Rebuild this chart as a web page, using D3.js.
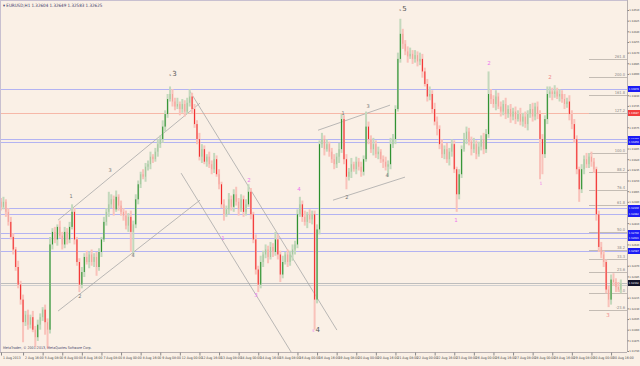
<!DOCTYPE html>
<html>
<head>
<meta charset="utf-8">
<script src="https://cdnjs.cloudflare.com/ajax/libs/d3/7.8.5/d3.min.js"></script>
<style>
body{margin:0;background:#faf0e6;}
svg{display:block;font-family:"DejaVu Sans",sans-serif;}
.small{font-family:"DejaVu Sans Condensed","DejaVu Sans",sans-serif;}
</style>
</head>
<body>
<svg id="chart" width="640" height="366"></svg>
<script>
//chart data (prices in pips above 1.3000, one bar = 2 hours)
var symbolTitle = "EURUSD,H1  1.32604 1.32649 1.32583 1.32625";
var copyright = "MetaTrader, \u00a9 2001-2013, MetaQuotes Software Corp.";
var firstOpen = 298;
var closes = [
 294,298,290,282,270,260,246,232,220,202, 208,200,206,196,190,200,206,212,202,196,
 264,274,268,278,271,264,274,268,278,290, 268,250,232,242,254,250,256,250,254,246,
 258,268,282,290,296,300,292,302,295,290, 287,279,286,274,280,300,312,320,318,326,
 328,334,332,338,344,348,358,368,380,384, 378,374,376,372,376,370,377,382,372,360,
 348,334,340,330,334,328,324,332,320,312, 296,288,292,300,294,304,298,292,300,290,
 296,306,288,268,244,232,250,256,260,254, 262,258,268,256,240,250,256,250,256,260,
 264,288,296,286,282,288,284,288,220,276, 344,348,340,344,338,332,328,334,340,364,
 332,318,322,328,324,330,326,322,332,358, 348,340,344,336,338,332,330,326,328,344,
 348,372,412,432,424,418,414,416,412,415, 410,412,402,392,382,384,372,362,356,344,
 336,340,332,338,344,324,304,320,340,348, 354,346,340,344,336,342,348,340,352,384,
 380,376,382,374,370,376,368,372,366,370, 364,368,362,366,360,368,372,366,374,368,
 348,336,364,384,386,384,386,382,384,380, 376,378,368,360,348,324,308,324,332,328,
 334,330,324,288,262,256,250,228,220,236, 234,230,228,233
];
var wickUp = [
 3,4,2,3,4,3,2,5,3,4, 3,4,2,5,3,4,3,2,4,3,
 6,3,4,2,5,3,4,3,4,6, 3,2,3,4,3,5,2,4,3,4,
 3,2,4,3,10,4,3,5,2,4, 3,4,3,5,3,4,3,2,4,3,
 3,4,2,3,4,3,5,3,4,6, 4,3,5,2,4,3,4,6,3,4,
 3,5,4,3,2,4,3,5,3,4, 2,4,3,5,3,4,6,3,4,3,
 4,6,3,2,4,3,5,3,4,3, 4,3,6,4,3,5,2,4,3,4,
 3,4,6,3,5,2,4,3,3,4, 3,5,3,4,2,3,4,3,5,4,
 3,4,3,5,2,4,3,4,3,12, 4,3,5,3,4,2,3,4,3,5,
 4,3,5,12,4,3,4,5,3,4, 3,5,4,3,4,6,3,5,4,3,
 4,3,5,3,4,3,2,4,3,5, 4,3,4,5,3,4,3,5,4,18,
 4,3,5,3,4,3,5,3,4,3, 4,3,5,3,4,3,4,5,3,4,
 3,4,3,6,4,3,5,3,4,3, 4,3,5,3,4,3,2,4,3,5,
 3,4,3,2,3,4,3,2,3,4, 5,3,4,3
];
var wickDown = [
 3,2,4,3,2,4,3,3,4,16, 3,4,3,2,8,3,4,3,10,15,
 3,4,3,5,2,4,3,4,3,2, 4,3,6,3,4,2,5,3,4,7,
 3,4,2,3,4,3,5,2,4,3, 4,3,5,16,18,3,4,3,2,4,
 3,4,3,2,4,3,3,4,3,2, 4,3,2,5,3,4,2,3,4,3,
 4,3,5,2,4,3,4,3,2,4, 3,5,2,4,3,4,3,5,2,4,
 3,2,4,3,4,6,3,4,3,5, 2,4,3,4,6,3,2,4,3,5,
 4,3,2,4,3,5,3,4,24,3, 4,3,5,2,4,3,4,3,5,3,
 4,10,3,5,2,4,3,4,3,2, 4,3,5,3,4,3,5,3,8,4,
 3,4,2,3,4,3,5,2,4,3, 4,3,5,2,4,3,4,3,5,4,
 3,4,3,5,4,3,14,4,3,2, 4,3,5,3,4,2,3,4,3,3,
 4,3,5,2,4,3,4,3,5,3, 4,2,3,4,3,5,3,4,3,4,
 32,16,3,4,3,5,3,2,4,3, 4,3,5,4,3,4,10,3,4,3,
 3,4,3,5,4,3,4,3,6,4, 3,4,2,3
];
var priceTicks = [1.31790,1.31875,1.31960,1.32045,1.32130,1.32215,1.32300,1.32385,1.32470,1.32555,
 1.32640,1.32725,1.32810,1.32895,1.32980,1.33065,1.33150,1.33235,1.33320,1.33405,1.33490,
 1.33575,1.33660,1.33745,1.33830,1.33915,1.34000,1.34085,1.34170,1.34255,1.34340,1.34425,1.34510];
var timeTickBars = [0,9,17,25,33,41,49,57,65,73,81,89,97,105,113,121,129,137,145,153,161,169,177,185,193,201,209,217,225,233,241,249];
var timeTickLabels = ["1 Aug 2013","2 Aug 16:00","5 Aug 08:00","6 Aug 00:00","6 Aug 16:00","7 Aug 08:00",
 "8 Aug 00:00","8 Aug 16:00","9 Aug 08:00","12 Aug 00:00","12 Aug 16:00","13 Aug 08:00","14 Aug 00:00",
 "14 Aug 16:00","15 Aug 08:00","16 Aug 00:00","16 Aug 16:00","19 Aug 08:00","20 Aug 00:00","20 Aug 16:00",
 "21 Aug 08:00","22 Aug 00:00","22 Aug 16:00","23 Aug 08:00","26 Aug 00:00","26 Aug 16:00","27 Aug 08:00",
 "28 Aug 00:00","28 Aug 16:00","29 Aug 08:00","30 Aug 00:00","30 Aug 16:00"];
//horizontal levels: price, kind
var levelPrices = [1.33878,1.33687,1.33480,1.33456,1.32930,1.32882,1.32730,1.32691,1.32587,1.32332,1.32316];
var levelKinds  = ["blue","red","blue","blue","blue","blue","blue","blue","blue","bid","ask"];
//fibo levels at right side
var fibStartBar = 240;
var fibPrices = [1.34117,1.33974,1.33830,1.33687,1.33368,1.33217,1.33073,1.32954,1.32738,1.32595,1.32523,1.32420,1.32252,1.32117];
var fibLabels = ["261.8","200.0","161.8","127.2","100.0","88.2","76.4","61.8","50.0","38.2","33.3","23.6","0.0","-23.6"];
//trend lines [bar1, price1, bar2, price2]
var trendLines = [
 [23.3,1.32109, 81.2,1.32993],
 [23.3,1.32834, 81.2,1.33767],
 [77.1,1.33862, 137.1,1.31957],
 [73.5,1.33209, 118.4,1.31782],
 [129.4,1.33551, 158.8,1.33751],
 [135.5,1.32993, 164.9,1.33177]
];
//wave labels [prefix, text, bar, price, colour, size]
var waveLabels = [
 ["","1",28.6,1.33009,"#777",5],["","2",32.2,1.32212,"#777",5],["","3",44.5,1.33217,"#777",5],["","4",53.9,1.32539,"#777",5],
 ["s","3",70.2,1.33982,"#555",7],
 ["","1",90.6,1.32675,"#ee77ee",5.5],["","2",101.2,1.33137,"#ee77ee",5.5],["","3",104.1,1.32220,"#ee77ee",5.5],["","4",121.6,1.33065,"#ee77ee",5.5],
 ["5","4",128.6,1.31941,"#555",7],
 ["","1",139.6,1.33671,"#777",5],["","2",141.2,1.33001,"#777",5],["","3",149.8,1.33727,"#777",5],["","4",157.6,1.33177,"#777",5],
 ["s","5",164.1,1.34500,"#555",7],
 ["","1",185.7,1.32818,"#ee77ee",5.5],["","2",199.2,1.34070,"#ee77ee",5.5],["","1",220.4,1.33113,"#ee77ee",4.5],
 ["","2",224.1,1.33958,"#f08a8a",5.5],["","3",247.8,1.32061,"#f08a8a",5.5]
];

var W = 640, H = 366, plotRight = 627, plotBottom = 352;
var svg = d3.select("#chart");
svg.append("rect").attr("width",W).attr("height",H).attr("fill","#faf0e6");

var x = d3.scaleLinear().domain([0,256]).range([1,628.2]);
var y = d3.scaleLinear().domain([1.31790,1.34510]).range([351,10]);
function px(p){ return 1.3 + p/10000; }

svg.append("clipPath").attr("id","plot").append("rect")
 .attr("x",0).attr("y",0).attr("width",plotRight).attr("height",plotBottom);
var plot = svg.append("g").attr("clip-path","url(#plot)");

//horizontal levels
var levelColor = {blue:"#b3b3f2", red:"#f6b8a8", bid:"#bdbdbd", ask:"#cfcfcf"};
var tagColor = {blue:"#1c1cf5", red:"#f23c3c", bid:"#14142a"};
plot.selectAll("line.level").data(levelPrices).enter().append("line")
 .attr("class","level")
 .attr("x1",0).attr("x2",plotRight)
 .attr("y1",function(d){return Math.round(y(d))+0.5;})
 .attr("y2",function(d){return Math.round(y(d))+0.5;})
 .attr("stroke",function(d,i){return levelColor[levelKinds[i]];})
 .attr("stroke-width",1.2);

//fibo lines
plot.selectAll("line.fib").data(fibPrices).enter().append("line")
 .attr("x1",x(fibStartBar)).attr("x2",plotRight)
 .attr("y1",function(d){return Math.round(y(d))+0.5;})
 .attr("y2",function(d){return Math.round(y(d))+0.5;})
 .attr("stroke","#c4bcb4").attr("stroke-width",1);
plot.selectAll("text.fib").data(fibPrices).enter().append("text")
 .attr("class","small")
 .attr("x",plotRight-2).attr("y",function(d){return y(d)-1.5;})
 .attr("text-anchor","end").attr("font-size",4).attr("fill","#8a8a8a")
 .text(function(d,i){return fibLabels[i];});

//trend lines
plot.selectAll("line.trend").data(trendLines).enter().append("line")
 .attr("x1",function(d){return x(d[0]);}).attr("y1",function(d){return y(d[1]);})
 .attr("x2",function(d){return x(d[2]);}).attr("y2",function(d){return y(d[3]);})
 .attr("stroke","#a8a8a8").attr("stroke-width",0.8);

//candles
var bars = closes.map(function(c,i){
 var o = i===0 ? firstOpen : closes[i-1];
 return {i:i, o:o, c:c, h:Math.max(o,c)+wickUp[i], l:Math.min(o,c)-wickDown[i]};
});
var candle = plot.selectAll("g.bar").data(bars).enter().append("g");
candle.append("line")
 .attr("x1",function(d){return x(d.i);}).attr("x2",function(d){return x(d.i);})
 .attr("y1",function(d){return y(px(d.h));}).attr("y2",function(d){return y(px(d.l));})
 .attr("stroke",function(d){return d.c>=d.o?"#c3d8bc":"#f9c2ba";})
 .attr("stroke-width",2);
candle.append("rect")
 .attr("x",function(d){return x(d.i)-0.5;}).attr("width",1)
 .attr("y",function(d){return y(px(Math.max(d.o,d.c)));})
 .attr("height",function(d){return Math.max(1,y(px(Math.min(d.o,d.c)))-y(px(Math.max(d.o,d.c))));})
 .attr("fill",function(d){
   var big = Math.abs(d.c-d.o)>=9;
   if(d.c>=d.o) return big?"#2a8f2a":"#a3c99c";
   return big?"#f22a2a":"#f5a39b";
 });

//wave labels
var wl = svg.selectAll("text.wave").data(waveLabels).enter().append("text")
 .attr("x",function(d){return x(d[2]);}).attr("y",function(d){return y(d[3]);})
 .attr("text-anchor","middle");
wl.append("tspan").attr("font-size",3.5)
 .attr("fill",function(d){return d[0]==="5"?"#ee77ee":"#777";})
 .text(function(d){return d[0]?d[0]+" ":"";});
wl.append("tspan").attr("font-size",function(d){return d[5];})
 .attr("fill",function(d){return d[4];})
 .text(function(d){return d[1];});

//frame and axes
svg.append("line").attr("x1",0.5).attr("x2",0.5).attr("y1",0).attr("y2",plotBottom).attr("stroke","#c8c0d0");
svg.append("line").attr("x1",0).attr("x2",plotRight).attr("y1",0.5).attr("y2",0.5).attr("stroke","#c8c0d0");
svg.append("line").attr("x1",plotRight+0.5).attr("x2",plotRight+0.5).attr("y1",0).attr("y2",plotBottom).attr("stroke","#b8b0b0");
svg.append("line").attr("x1",0).attr("x2",plotRight).attr("y1",plotBottom+0.5).attr("y2",plotBottom+0.5).attr("stroke","#b8b0b0");

//price tags decide which plain tick labels stay visible
var tagIdx = levelPrices.map(function(p,i){return i;}).filter(function(i){return tagColor[levelKinds[i]];});
function nearTag(p){
 return tagIdx.some(function(i){return Math.abs(y(levelPrices[i])-y(p))<6;});
}
var yAxis = d3.axisRight(y).tickValues(priceTicks.filter(function(p){return !nearTag(p);}))
 .tickSize(1.5).tickPadding(0.3).tickFormat(d3.format(".5f"));
var ya = svg.append("g").attr("transform","translate("+(plotRight+0.5)+",0)").call(yAxis);
ya.select(".domain").remove();
ya.selectAll("line").attr("stroke","#888");
ya.selectAll("text").attr("class","small").attr("font-size",2.7).attr("fill","#444");

var xAxis = d3.axisBottom(x).tickValues(timeTickBars).tickSize(3).tickPadding(1)
 .tickFormat(function(d,i){return timeTickLabels[i];});
var xa = svg.append("g").attr("transform","translate(0,"+(plotBottom+0.5)+")").call(xAxis);
xa.select(".domain").remove();
xa.selectAll("line").attr("stroke","#888");
xa.selectAll("text").attr("class","small").attr("font-size",3.4).attr("fill","#444")
 .attr("text-anchor","start").attr("dx",1.5);

var tags = svg.selectAll("g.tag").data(tagIdx).enter().append("g")
 .attr("transform",function(i){return "translate("+(plotRight+1)+","+Math.round(y(levelPrices[i]))+")";});
tags.append("rect").attr("x",0).attr("y",-3).attr("width",12).attr("height",6)
 .attr("fill",function(i){return tagColor[levelKinds[i]];});
tags.append("text").attr("class","small").attr("x",0.8).attr("y",1.1).attr("font-size",2.7).attr("fill","#fff")
 .text(function(i){return d3.format(".5f")(levelPrices[i]);});

//header and copyright
svg.append("text").attr("class","small").attr("x",3).attr("y",7).attr("font-size",4.5).attr("fill","#3a3a6a").text("\u25be " + symbolTitle);
svg.append("text").attr("class","small").attr("x",3).attr("y",plotBottom-3).attr("font-size",3.6).attr("fill","#4a4a6a").text(copyright);
</script>
</body>
</html>
